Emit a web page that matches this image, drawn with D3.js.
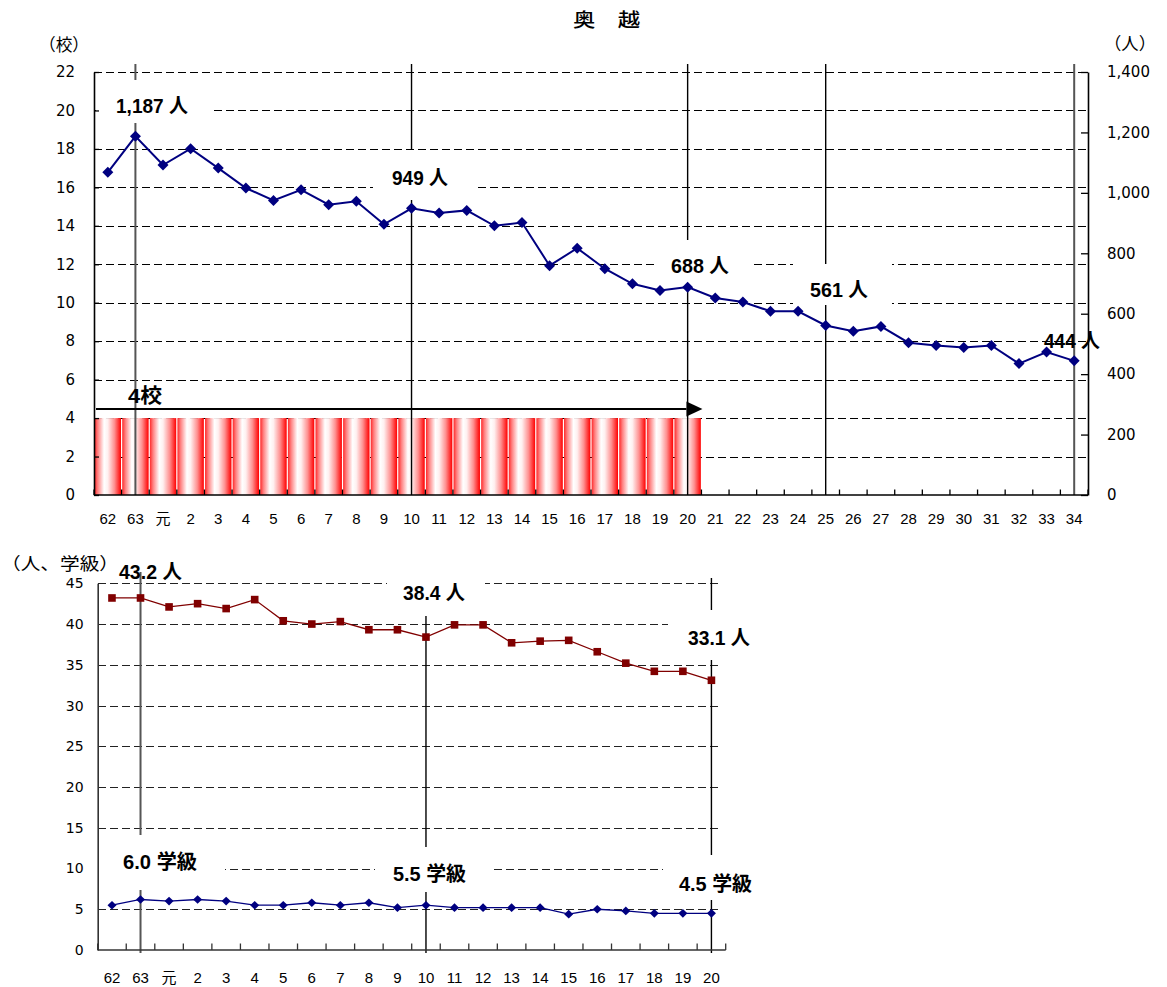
<!DOCTYPE html>
<html><head><meta charset="utf-8">
<script src="https://cdn.jsdelivr.net/npm/d3@7"></script>
<style>
body{margin:0;background:#fff;}
svg{display:block;}
</style></head><body>
<svg id="c" width="1167" height="987"></svg>
<script>
// ---------------- DATA ----------------
const yearsTop = ["62","63","元","2","3","4","5","6","7","8","9","10","11","12","13","14","15","16","17","18","19","20","21","22","23","24","25","26","27","28","29","30","31","32","33","34"];
const enrollment = [1068,1187,1092,1146,1082,1016,975,1010,961,972,896,949,933,942,891,902,759,817,749,699,677,688,652,639,608,608,561,542,558,504,495,488,495,435,473,444];
const yearsSchools = ["62","63","元","2","3","4","5","6","7","8","9","10","11","12","13","14","15","16","17","18","19","20"];
const schools = [4,4,4,4,4,4,4,4,4,4,4,4,4,4,4,4,4,4,4,4,4,4];
const leftTicksTop = [0,2,4,6,8,10,12,14,16,18,20,22];
const rightTicksTop = [0,200,400,600,800,1000,1200,1400];
const markYearsTop = ["63","10","20","25","34"];

const yearsBottom = ["62","63","元","2","3","4","5","6","7","8","9","10","11","12","13","14","15","16","17","18","19","20"];
const studentsPerClass = [43.2,43.2,42.1,42.5,41.9,43.0,40.4,40.0,40.3,39.3,39.3,38.4,39.9,39.9,37.7,37.9,38.0,36.6,35.2,34.2,34.2,33.1];
const classesPerSchool = [5.5,6.2,6.0,6.2,6.0,5.5,5.5,5.8,5.5,5.8,5.2,5.5,5.2,5.2,5.2,5.2,4.4,5.0,4.8,4.5,4.5,4.5];
const ticksBottom = [0,5,10,15,20,25,30,35,40,45];
const markYearsBottom = ["63","10","20"];

const title = "奥　越";
const topLeftUnit = "（校）";
const topRightUnit = "（人）";
const bottomUnit = "（人、学級）";
const schoolLabel = "4校";

// annotation layout (text, left x, baseline y, width, white box)
const annTop = [
  {t:"1,187 人", x:116, y:113, w:72, box:[96,80,213,123]},
  {t:"949 人", x:392, y:185, w:56, box:[373,150,475,200]},
  {t:"688 人", x:671, y:273, w:58, box:[654,240,754,284]},
  {t:"561 人", x:810, y:297, w:58, box:[793,264,892,305]},
  {t:"444 人", x:1044, y:348, w:56, box:null}
];
const annBottom = [
  {t:"43.2 人", x:119, y:579, w:63, box:null},
  {t:"38.4 人", x:403, y:600, w:62, box:[387,570,485,616]},
  {t:"33.1 人", x:688, y:645, w:62, box:[668,610,760,660]},
  {t:"6.0 学級", x:123, y:869, w:74, box:[99,835,225,890]},
  {t:"5.5 学級", x:393, y:881, w:73, box:[375,847,492,892]},
  {t:"4.5 学級", x:679, y:891, w:73, box:[663,855,760,900]}
];

// ---------------- CHART ----------------
const svg = d3.select("#c");
const defs = svg.append("defs");
const grad = defs.append("linearGradient").attr("id","barGrad")
  .attr("x1","0").attr("x2","1").attr("y1","0").attr("y2","0");
[[0,"#ff2a2a"],[0.12,"#ff8080"],[0.36,"#ffffff"],[0.5,"#fff0f0"],[0.75,"#ff9090"],[1,"#ff0000"]]
  .forEach(([o,c])=>grad.append("stop").attr("offset",o).attr("stop-color",c));

const annFont = "'Liberation Sans Narrow','Arial Narrow','Liberation Sans','Noto Sans CJK JP',sans-serif";
const cjkFont = "'Noto Sans CJK JP','Noto Sans',sans-serif";
const crisp = v => Math.round(v) + 0.5;

// ---- top chart ----
const xT = d3.scaleBand().domain(yearsTop).range([94,1088]);
const yL = d3.scaleLinear().domain([0,22]).range([495,72]);
const yR = d3.scaleLinear().domain([0,1400]).range([495,72]);
const bwT = xT.bandwidth();
const gT = svg.append("g");

gT.selectAll("line.grid").data(leftTicksTop.filter(d=>d>0)).join("line")
  .attr("x1",94).attr("x2",1088).attr("y1",d=>crisp(yL(d))).attr("y2",d=>crisp(yL(d)))
  .attr("stroke","#000").attr("stroke-width",1.2).attr("stroke-dasharray","8,4")
  .attr("shape-rendering","crispEdges");

gT.selectAll("rect.bar").data(schools).join("rect")
  .attr("x",(d,i)=>xT(yearsSchools[i])+0.6).attr("width",bwT-1.2)
  .attr("y",d=>yL(d)).attr("height",d=>yL(0)-yL(d)).attr("fill","url(#barGrad)");

gT.selectAll("line.vm").data(markYearsTop).join("line")
  .attr("x1",d=>xT(d)+bwT/2).attr("x2",d=>xT(d)+bwT/2)
  .attr("y1",64).attr("y2",495)
  .attr("stroke",(d,i)=>(i===0||i===markYearsTop.length-1)?"#555":"#000")
  .attr("stroke-width",(d,i)=>(i===0||i===markYearsTop.length-1)?2:1.4);

gT.selectAll("rect.box").data(annTop.filter(a=>a.box)).join("rect")
  .attr("x",a=>a.box[0]).attr("y",a=>a.box[1]).attr("width",a=>a.box[2]-a.box[0]).attr("height",a=>a.box[3]-a.box[1])
  .attr("fill","#fff");

// axes
const axL = gT.append("g").attr("transform","translate(94,0)")
  .call(d3.axisLeft(yL).tickValues(leftTicksTop).tickSizeInner(-5).tickSizeOuter(0).tickPadding(19));
const axR = gT.append("g").attr("transform","translate(1088,0)")
  .call(d3.axisRight(yR).tickValues(rightTicksTop).tickSizeInner(-7).tickSizeOuter(0).tickPadding(19).tickFormat(d3.format(",")));
const axB = gT.append("g").attr("transform","translate(0,495)")
  .call(d3.axisBottom(xT).tickSize(0).tickPadding(18));
axB.select(".domain").remove();
[axL,axR].forEach(a=>{
  a.select(".domain").attr("stroke","#000").attr("stroke-width",1.6);
  a.selectAll(".tick line").attr("stroke","#000").attr("stroke-width",1.3);
  a.selectAll("text").attr("font-family","'DejaVu Sans',sans-serif").attr("font-size",15).attr("fill","#000");
});
axB.selectAll("text").attr("font-family","'Liberation Sans',"+cjkFont).attr("font-size",15).attr("fill","#000");
gT.append("line").attr("x1",94).attr("x2",1088).attr("y1",495).attr("y2",495).attr("stroke","#000").attr("stroke-width",1.6);
const bndT = yearsTop.map(d=>xT(d)).concat([xT.range()[1]]);
gT.selectAll("line.bt").data(bndT).join("line")
  .attr("x1",d=>d).attr("x2",d=>d).attr("y1",495).attr("y2",489.5)
  .attr("stroke","#000").attr("stroke-width",1.3);

// arrow for schools
const arrowEnd = xT(yearsSchools[yearsSchools.length-1])+bwT;
gT.append("line").attr("x1",96).attr("x2",arrowEnd-15).attr("y1",409).attr("y2",409)
  .attr("stroke","#000").attr("stroke-width",2);
gT.append("path").attr("d",`M${arrowEnd-15},401.5L${arrowEnd+1},409L${arrowEnd-15},416.5Z`).attr("fill","#000");
gT.append("text").attr("x",128).attr("y",403).attr("font-family",annFont).attr("font-weight","bold")
  .attr("font-size",20).attr("textLength",34).attr("lengthAdjust","spacingAndGlyphs").text(schoolLabel);

// enrollment line
const lineT = d3.line().x((d,i)=>xT(yearsTop[i])+bwT/2).y(d=>yR(d));
gT.append("path").datum(enrollment).attr("d",lineT).attr("fill","none").attr("stroke","#000080").attr("stroke-width",2);
gT.selectAll("path.dm").data(enrollment).join("path")
  .attr("transform",(d,i)=>`translate(${xT(yearsTop[i])+bwT/2},${yR(d)})`)
  .attr("d","M0,-5.5L5.5,0L0,5.5L-5.5,0Z").attr("fill","#000080");

gT.selectAll("text.ann").data(annTop).join("text")
  .attr("x",a=>a.x).attr("y",a=>a.y).attr("textLength",a=>a.w).attr("lengthAdjust","spacingAndGlyphs")
  .attr("font-family",annFont).attr("font-weight","bold").attr("font-size",20).attr("fill","#000")
  .text(a=>a.t);

// titles
svg.append("text").attr("x",573).attr("y",27).attr("font-family",cjkFont).attr("font-weight",500)
  .attr("font-size",19).attr("textLength",67).attr("lengthAdjust","spacingAndGlyphs").text(title);
svg.append("text").attr("x",39).attr("y",51).attr("font-family",cjkFont).attr("font-size",17)
  .attr("textLength",50).attr("lengthAdjust","spacingAndGlyphs").text(topLeftUnit);
svg.append("text").attr("x",1104).attr("y",50).attr("font-family",cjkFont).attr("font-size",17)
  .attr("textLength",52).attr("lengthAdjust","spacingAndGlyphs").text(topRightUnit);
svg.append("text").attr("x",1).attr("y",570).attr("font-family",cjkFont).attr("font-size",17)
  .attr("textLength",118).attr("lengthAdjust","spacingAndGlyphs").text(bottomUnit);

// ---- bottom chart ----
const xB = d3.scaleBand().domain(yearsBottom).range([97.7,725.7]);
const yB = d3.scaleLinear().domain([0,45]).range([950,583.3]);
const bwB = xB.bandwidth();
const gB = svg.append("g");

gB.selectAll("line.grid").data(ticksBottom.filter(d=>d>0)).join("line")
  .attr("x1",97.7).attr("x2",722).attr("y1",d=>crisp(yB(d))).attr("y2",d=>crisp(yB(d)))
  .attr("stroke","#222").attr("stroke-width",1.2).attr("stroke-dasharray","8,4")
  .attr("shape-rendering","crispEdges");

gB.selectAll("line.vm").data(markYearsBottom).join("line")
  .attr("x1",d=>xB(d)+bwB/2).attr("x2",d=>xB(d)+bwB/2)
  .attr("y1",(d,i)=>i===0?572:578).attr("y2",953)
  .attr("stroke",(d,i)=>i===0?"#555":"#000").attr("stroke-width",(d,i)=>i===0?2:1.4);

gB.selectAll("rect.box").data(annBottom.filter(a=>a.box)).join("rect")
  .attr("x",a=>a.box[0]).attr("y",a=>a.box[1]).attr("width",a=>a.box[2]-a.box[0]).attr("height",a=>a.box[3]-a.box[1])
  .attr("fill","#fff");

const axBL = gB.append("g").attr("transform","translate(97.7,0)")
  .call(d3.axisLeft(yB).tickValues(ticksBottom).tickSizeInner(0).tickSizeOuter(0).tickPadding(14));
axBL.select(".domain").attr("stroke","#333").attr("stroke-width",1.6);
axBL.selectAll("text").attr("font-family","'DejaVu Sans',sans-serif").attr("font-size",14).attr("fill","#000");
const axBB = gB.append("g").attr("transform","translate(0,950)")
  .call(d3.axisBottom(xB).tickSize(0).tickPadding(22));
axBB.select(".domain").remove();
axBB.selectAll("text").attr("font-family","'Liberation Sans',"+cjkFont).attr("font-size",15).attr("fill","#000");
gB.append("line").attr("x1",97.7).attr("x2",725.7).attr("y1",950).attr("y2",950).attr("stroke","#333").attr("stroke-width",1.6);
const bndB = yearsBottom.map(d=>xB(d)).concat([xB.range()[1]]);
gB.selectAll("line.bt").data(bndB).join("line")
  .attr("x1",d=>d).attr("x2",d=>d).attr("y1",950).attr("y2",943.5)
  .attr("stroke","#333").attr("stroke-width",1.3);

const lineR = d3.line().x((d,i)=>xB(yearsBottom[i])+bwB/2).y(d=>yB(d));
gB.append("path").datum(studentsPerClass).attr("d",lineR).attr("fill","none").attr("stroke","#800000").attr("stroke-width",1.3);
gB.selectAll("rect.sq").data(studentsPerClass).join("rect")
  .attr("x",(d,i)=>xB(yearsBottom[i])+bwB/2-3.8).attr("y",d=>yB(d)-3.8)
  .attr("width",7.6).attr("height",7.6).attr("fill","#800000");

gB.append("path").datum(classesPerSchool).attr("d",lineR).attr("fill","none").attr("stroke","#000080").attr("stroke-width",1.3);
gB.selectAll("path.dm").data(classesPerSchool).join("path")
  .attr("transform",(d,i)=>`translate(${xB(yearsBottom[i])+bwB/2},${yB(d)})`)
  .attr("d","M0,-4.3L4.5,0L0,4.3L-4.5,0Z").attr("fill","#000080");

gB.selectAll("text.ann").data(annBottom).join("text")
  .attr("x",a=>a.x).attr("y",a=>a.y).attr("textLength",a=>a.w).attr("lengthAdjust","spacingAndGlyphs")
  .attr("font-family",annFont).attr("font-weight","bold").attr("font-size",20).attr("fill","#000")
  .text(a=>a.t);
</script>
</body></html>
